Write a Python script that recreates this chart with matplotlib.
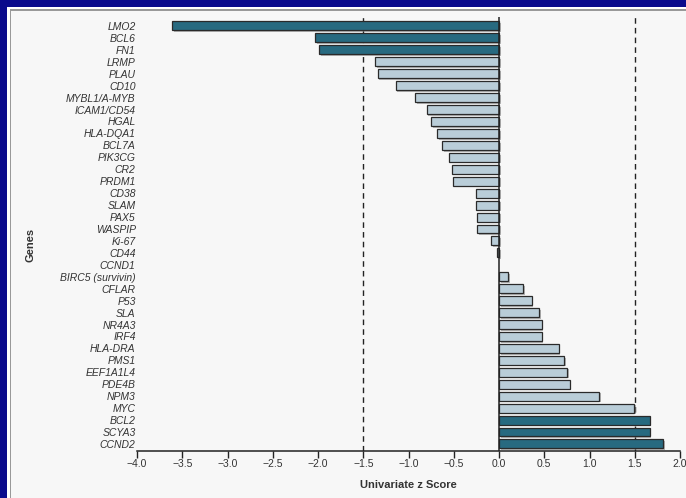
import matplotlib.pyplot as plt
import matplotlib.patheffects as pe
from matplotlib.patches import Rectangle

genes = ["LMO2", "BCL6", "FN1", "LRMP", "PLAU", "CD10", "MYBL1/A-MYB",
         "ICAM1/CD54", "HGAL", "HLA-DQA1", "BCL7A", "PIK3CG", "CR2", "PRDM1",
         "CD38", "SLAM", "PAX5", "WASPIP", "Ki-67", "CD44", "CCND1",
         "BIRC5 (survivin)", "CFLAR", "P53", "SLA", "NR4A3", "IRF4", "HLA-DRA",
         "PMS1", "EEF1A1L4", "PDE4B", "NPM3", "MYC", "BCL2", "SCYA3", "CCND2"]
z_scores = [-3.61, -2.03, -1.99, -1.37, -1.34, -1.14, -0.93, -0.80, -0.75,
            -0.68, -0.63, -0.55, -0.52, -0.51, -0.25, -0.25, -0.24, -0.24,
            -0.09, -0.02, 0.0, 0.10, 0.265, 0.36, 0.445, 0.47, 0.47, 0.66,
            0.72, 0.755, 0.78, 1.105, 1.49, 1.665, 1.665, 1.815]
threshold = 1.5
xticks = [-4.0, -3.5, -3.0, -2.5, -2.0, -1.5, -1.0, -0.5, 0.0, 0.5, 1.0, 1.5, 2.0]

dark = "#286a80"
light = "#b9cdd8"
text_col = "#333333"

plt.rcParams['font.family'] = ['Liberation Sans', 'DejaVu Sans']

fig = plt.figure(figsize=(6.86, 4.98), dpi=100)
fig.patch.set_facecolor("#0a0a8c")
W, H = 686, 498
# white frame, grey edge line, light panel
fig.patches.append(Rectangle((7 / W, 0), 1, 1 - 7 / H, transform=fig.transFigure,
                             facecolor="white", edgecolor="none", zorder=-10))
fig.patches.append(Rectangle((9.5 / W, 0), 1, 1 - 9.5 / H, transform=fig.transFigure,
                             facecolor="#999999", edgecolor="none", zorder=-9))
fig.patches.append(Rectangle((11 / W, 0), 1, 1 - 11 / H, transform=fig.transFigure,
                             facecolor="#f7f7f7", edgecolor="none", zorder=-8))

ax = fig.add_axes([137 / W, 1 - 451 / H, 543 / W, 434 / H])
ax.set_facecolor("none")

y = list(range(len(genes)))
colors = [dark if abs(v) >= threshold else light for v in z_scores]
bars = ax.barh(y, z_scores, height=0.75, color=colors, edgecolor="#2a2a2a",
               linewidth=0.9, zorder=3)
for b, v in zip(bars, z_scores):
    if v == 0:
        b.set_visible(False)
    b.set_path_effects([pe.SimplePatchShadow(offset=(1.2, -1.2), shadow_rgbFace="#888888",
                                             alpha=0.6), pe.Normal()])

ax.axvline(0, color="#222222", lw=1.1, zorder=4)
for t in (-threshold, threshold):
    ax.axvline(t, color="#222222", lw=1.0, dashes=(4, 3), zorder=2)

ax.set_xlim(-4, 2)
ax.set_ylim(len(genes) - 1 + 0.59, -0.75)
ax.set_yticks(y)
ax.set_yticklabels(genes, fontsize=7.5, style="italic", color=text_col)
ax.tick_params(axis="y", length=0, pad=1)
ax.set_xticks(xticks)
ax.set_xticklabels([f"{v:.1f}".replace("-", "\u2212") for v in xticks],
                   fontsize=7.5, color=text_col)
ax.tick_params(axis="x", length=5, width=1, color="#222222", pad=1)

for s in ("top", "right", "left"):
    ax.spines[s].set_visible(False)
ax.spines["bottom"].set_color("#222222")
ax.spines["bottom"].set_linewidth(1.1)

ax.set_xlabel("Univariate z Score", fontsize=8, fontweight="bold", color=text_col, labelpad=8)
fig.text(30 / W, 1 - 245 / H, "Genes", rotation=90, fontsize=8, fontweight="bold",
         color=text_col, ha="center", va="center")

fig.savefig("out.png", dpi=100, facecolor=fig.get_facecolor())
